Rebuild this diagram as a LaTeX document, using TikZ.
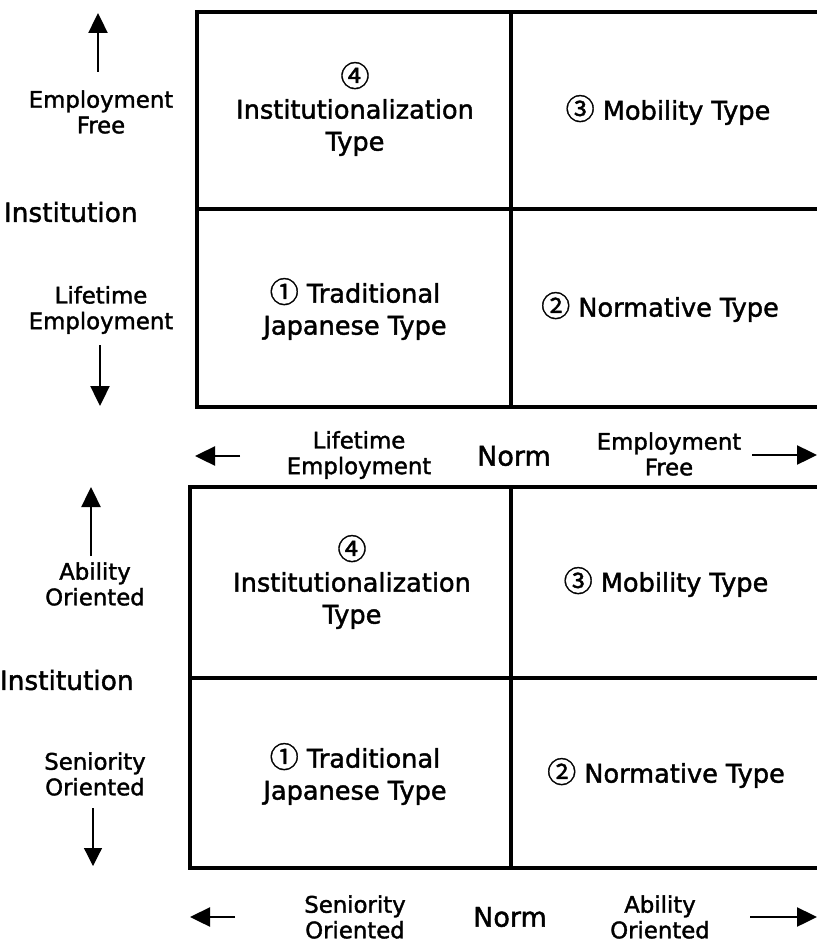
\documentclass[tikz,border=0pt]{standalone}
\usepackage{fontspec}
\setmainfont[FakeBold=1.6]{DejaVu Sans}
\newfontfamily\circnum[FakeBold=1.2]{Noto Sans CJK JP}
\usetikzlibrary{arrows.meta,positioning}
\tikzstyle{cell}=[align=center,inner sep=0pt,font=\fontsize{12.8}{16}\selectfont]
\tikzstyle{side}=[align=center,inner sep=0pt,font=\fontsize{11.4}{12.8}\selectfont]
\tikzstyle{normlabel}=[inner sep=0pt,font=\fontsize{13.5}{15}\selectfont]
\tikzstyle{instlabel}=[anchor=east,inner sep=0pt,font=\fontsize{13.2}{15}\selectfont]
\tikzstyle{frame}=[draw,line width=2.1pt]
\tikzstyle{divider}=[draw,line width=1.6pt]
\tikzstyle{axisarrow}=[draw,line width=1.2pt,-{Triangle[width=9.5pt,length=10pt]}]
\tikzstyle{thinarrow}=[draw,line width=0.6pt,-{Triangle[width=9pt,length=9pt]}]
\newcommand{\cn}[1]{{\circnum\fontsize{14.5}{16}\selectfont #1}}

\begin{document}
\begin{tikzpicture}[x=0.5pt,y=-0.5pt]
    \useasboundingbox (0,0) rectangle (817,941);
    \clip (0,0) rectangle (817,941);

    % upper panel: employment
    \draw[frame] (197,12) rectangle (830,407);
    \coordinate (Tn) at (511,12);  \coordinate (Ts) at (511,407);
    \coordinate (Tw) at (197,209); \coordinate (Te) at (830,209);
    \path[divider] (Tn) -- (Ts);
    \path[divider] (Tw) -- (Te);

    \node[cell] (T4) at (355,109) {\cn{④}\\Institutionalization\\Type};
    \node[cell] (T3) at (668,110) {\cn{③} Mobility Type};
    \node[cell] (T1) at (355,309) {\cn{①} Traditional\\Japanese Type};
    \node[cell] (T2) at (660,307) {\cn{②} Normative Type};

    \node[side] (Tfree) at (101,112) {Employment\\Free};
    \node[instlabel] (Tinst) at (138,212) {Institution};
    \node[side] (Tlife) at (101,310) {Lifetime\\Employment};
    \coordinate (Tup0) at (98,72);    \coordinate (Tup1) at (98,13);
    \coordinate (Tdown0) at (100,345); \coordinate (Tdown1) at (100,406);
    \path[axisarrow] (Tup0) -- (Tup1);
    \path[axisarrow] (Tdown0) -- (Tdown1);

    \node[side] (Tnl) at (359,455) {Lifetime\\Employment};
    \node[normlabel] (Tnorm) at (514,456) {Norm};
    \node[side] (Tnr) at (669,454) {Employment\\Free};
    \coordinate (Tl0) at (240,456); \coordinate (Tl1) at (195,456);
    \coordinate (Tr0) at (752,455); \coordinate (Tr1) at (817,455);
    \path[axisarrow] (Tl0) -- (Tl1);
    \path[axisarrow] (Tr0) -- (Tr1);

    % lower panel: wages
    \draw[frame] (190,487) rectangle (830,868);
    \coordinate (Bn) at (511,487);  \coordinate (Bs) at (511,868);
    \coordinate (Bw) at (190,678);  \coordinate (Be) at (830,678);
    \path[divider] (Bn) -- (Bs);
    \path[divider] (Bw) -- (Be);

    \node[cell] (B4) at (352,582) {\cn{④}\\Institutionalization\\Type};
    \node[cell] (B3) at (666,582) {\cn{③} Mobility Type};
    \node[cell] (B1) at (355,774) {\cn{①} Traditional\\Japanese Type};
    \node[cell] (B2) at (666,773) {\cn{②} Normative Type};

    \node[side] (Bable) at (95,584) {Ability\\Oriented};
    \node[instlabel] (Binst) at (134,680) {Institution};
    \node[side] (Bsen) at (95,774) {Seniority\\Oriented};
    \coordinate (Bup0) at (91,556);    \coordinate (Bup1) at (91,487);
    \coordinate (Bdown0) at (93,808);  \coordinate (Bdown1) at (93,866);
    \path[axisarrow] (Bup0) -- (Bup1);
    \path[thinarrow] (Bdown0) -- (Bdown1);

    \node[side] (Bnl) at (355,917) {Seniority\\Oriented};
    \node[normlabel] (Bnorm) at (510,917) {Norm};
    \node[side] (Bnr) at (660,917) {Ability\\Oriented};
    \coordinate (Bl0) at (235,917); \coordinate (Bl1) at (190,917);
    \coordinate (Br0) at (750,917); \coordinate (Br1) at (817,917);
    \path[axisarrow] (Bl0) -- (Bl1);
    \path[axisarrow] (Br0) -- (Br1);
\end{tikzpicture}
\end{document}
